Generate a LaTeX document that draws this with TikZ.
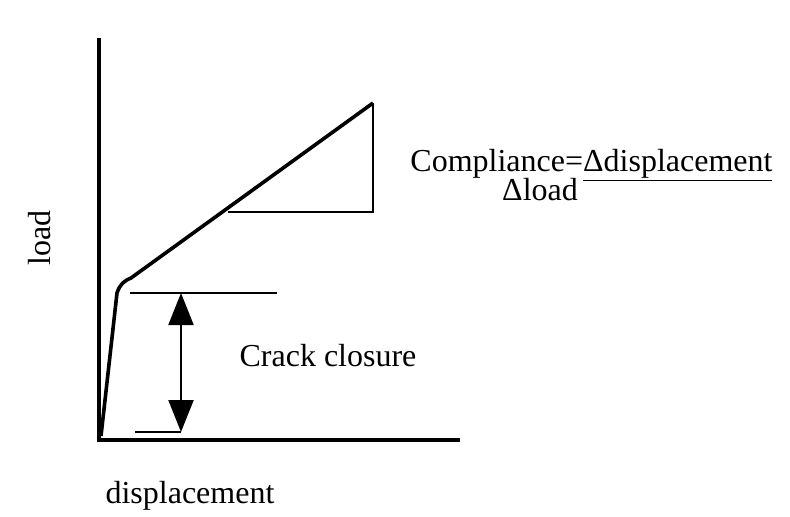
\documentclass[tikz,border=0pt]{standalone}
\usepackage{fontspec}
\setmainfont{Liberation Serif}
\usetikzlibrary{positioning, calc, arrows.meta}

\begin{document}
\begin{tikzpicture}[x=0.5pt, y=-0.5pt, font=\fontsize{16}{19}\selectfont,
	axis/.style={line width=2.2pt},
	curve/.style={line width=1.8pt, line join=round},
	thin/.style={line width=0.8pt},
	closure/.style={line width=1.1pt, {Triangle[length=16pt, width=12.5pt]}-{Triangle[length=16pt, width=12.5pt]}}]
\useasboundingbox (0, 0) rectangle (790, 516);
% axes
\coordinate (O) at (99, 440);
\draw[axis] (99, 38) coordinate (ytop) -- (O) -- (460, 440) coordinate (xend);
\node[rotate=90] (ylab) at (40, 238) {load};
\node (xlab) at (190, 496) {displacement};
% load curve
\draw[curve] (101, 436) -- (117, 293) .. controls (120, 284) and (124, 281) .. (131, 278)
	-- (373, 103) coordinate (top);
% slope triangle
\draw[thin] (top) -- (373, 212) coordinate (corner) -- (228, 212);
\node[anchor=base west, inner sep=0pt] (comp) at (410, 171) {Compliance=\underline{\hbox{Δdisplacement}}};
\node[anchor=base, inner sep=0pt] (dload) at (540, 200) {Δload};
% crack closure
\draw[thin] (130, 293) -- (277, 293);
\draw[thin] (135, 432) -- (181, 432);
\coordinate (c1) at (181, 293);
\coordinate (c2) at (181, 432);
\draw[closure] (c1) -- (c2);
\node (cc) at (328, 356) {Crack closure};
\end{tikzpicture}
\end{document}
